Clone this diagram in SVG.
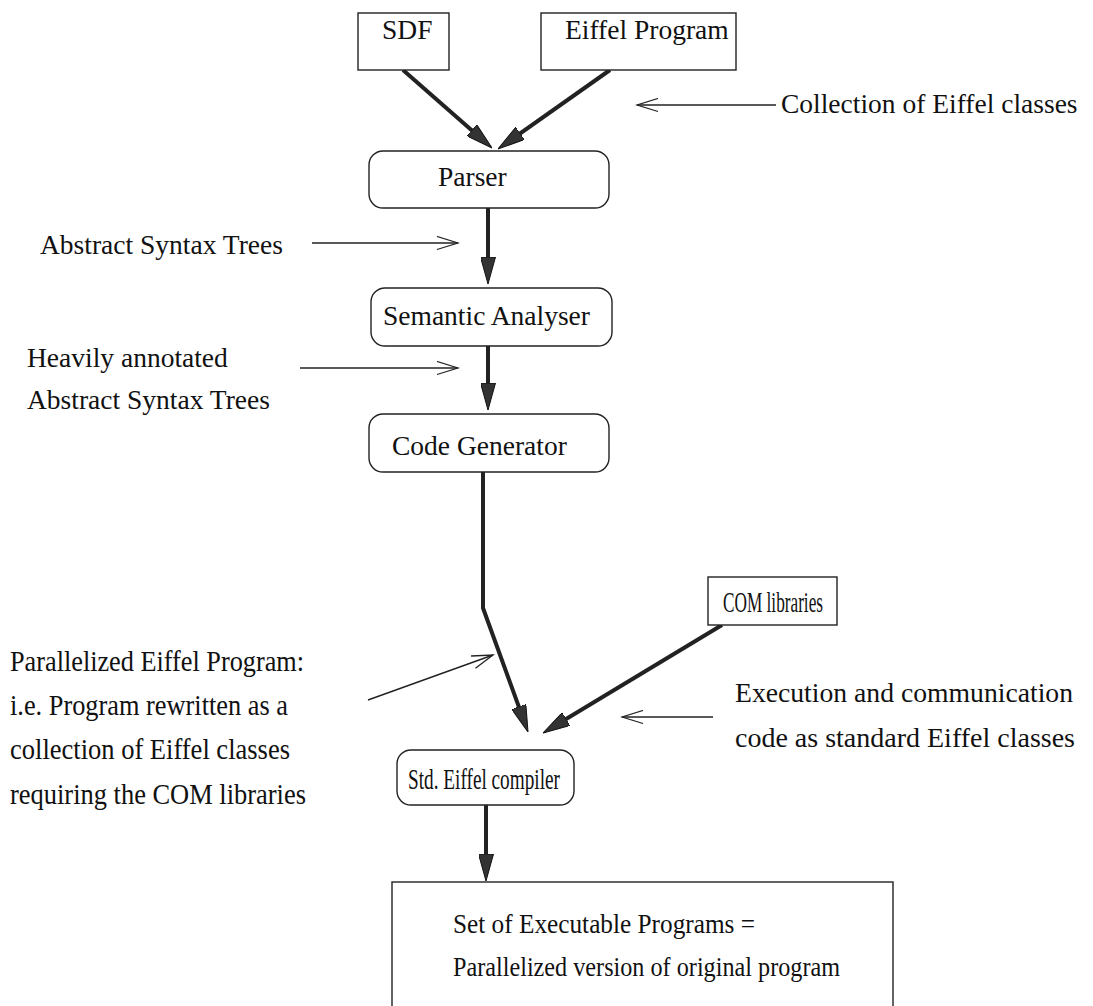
<svg xmlns="http://www.w3.org/2000/svg" width="1093" height="1006" viewBox="0 0 1093 1006">
  <defs>
    <style>
      text { font-family: "Liberation Serif", "Times New Roman", serif; font-size: 27.5px; fill: #111; }
      text.tall { font-size: 30px; }
      .box { fill: #fff; stroke: #222; stroke-width: 1.4; }
      .flow { fill: none; stroke: #222; stroke-width: 4; stroke-linejoin: round; }
      .note { fill: none; stroke: #222; stroke-width: 1.4; }
    </style>
    <!-- solid wedge head for the main data flow -->
    <marker id="solid" markerUnits="userSpaceOnUse" viewBox="0 0 27 15" markerWidth="27" markerHeight="15" refX="17" refY="7.5" orient="auto">
      <path d="M0,0 L27,7.5 L0,15 Z" fill="#333" stroke="#111" stroke-width="1"/>
    </marker>
    <!-- open V head for the annotation pointers -->
    <marker id="open" markerUnits="userSpaceOnUse" viewBox="-1 -1 24 15" markerWidth="24" markerHeight="15" refX="21" refY="6.5" orient="auto">
      <path d="M0,0 L21,6.5 L0,13" fill="none" stroke="#222" stroke-width="1.3"/>
    </marker>
  </defs>

  <rect width="1093" height="1006" fill="#fff"/>

  <!-- connectors -->
  <g id="connectors">
    <path class="flow" d="M403,70 L484.5,141.4" marker-end="url(#solid)"/>
    <path class="flow" d="M610,70 L506.2,143.2" marker-end="url(#solid)"/>
    <path class="flow" d="M488,208 L488,274" marker-end="url(#solid)"/>
    <path class="flow" d="M488,346 L488,400" marker-end="url(#solid)"/>
    <path class="flow" d="M483,472 L483,608 L524.6,722.6" marker-end="url(#solid)"/>
    <path class="flow" d="M722,625 L551.6,727.8" marker-end="url(#solid)"/>
    <path class="flow" d="M486,805 L486,871" marker-end="url(#solid)"/>

    <path class="note" d="M776,105 L637,105" marker-end="url(#open)"/>
    <path class="note" d="M312,243 L458,243" marker-end="url(#open)"/>
    <path class="note" d="M300,368 L458,368" marker-end="url(#open)"/>
    <path class="note" d="M368,700 L493,655" marker-end="url(#open)"/>
    <path class="note" d="M713,717 L622,717" marker-end="url(#open)"/>
  </g>

  <!-- nodes -->
  <g id="sdf">
    <rect class="box" x="358" y="13" width="91" height="57"/>
    <text x="382" y="39">SDF</text>
  </g>
  <g id="eiffel-program">
    <rect class="box" x="541" y="13" width="195" height="57"/>
    <text x="565" y="39">Eiffel Program</text>
  </g>
  <g id="parser">
    <rect class="box" x="369" y="151" width="240" height="57" rx="14"/>
    <text x="438" y="186">Parser</text>
  </g>
  <g id="semantic-analyser">
    <rect class="box" x="371" y="288" width="241" height="58" rx="14"/>
    <text x="383" y="325">Semantic Analyser</text>
  </g>
  <g id="code-generator">
    <rect class="box" x="369" y="414" width="240" height="58" rx="14"/>
    <text x="392" y="455">Code Generator</text>
  </g>
  <g id="com-libraries">
    <rect class="box" x="708" y="577" width="129" height="48"/>
    <text class="tall" x="723" y="612" textLength="100" lengthAdjust="spacingAndGlyphs">COM libraries</text>
  </g>
  <g id="std-compiler">
    <rect class="box" x="397" y="750" width="177" height="55" rx="14"/>
    <text class="tall" x="408" y="789" textLength="152" lengthAdjust="spacingAndGlyphs">Std. Eiffel compiler</text>
  </g>
  <g id="executables">
    <rect class="box" x="392" y="882" width="501" height="140"/>
    <text x="453" y="933" textLength="302" lengthAdjust="spacingAndGlyphs">Set of Executable Programs =</text>
    <text x="453" y="976" textLength="387" lengthAdjust="spacingAndGlyphs">Parallelized version of original program</text>
  </g>

  <!-- annotations -->
  <g id="labels">
    <text x="781" y="113">Collection of Eiffel classes</text>
    <text x="40" y="254">Abstract Syntax Trees</text>
    <text x="27" y="367">Heavily annotated</text>
    <text x="27" y="409">Abstract Syntax Trees</text>
    <text class="tall" x="10" y="671" textLength="294" lengthAdjust="spacingAndGlyphs">Parallelized Eiffel Program:</text>
    <text class="tall" x="10" y="715" textLength="278" lengthAdjust="spacingAndGlyphs">i.e. Program rewritten as a</text>
    <text class="tall" x="10" y="759" textLength="280" lengthAdjust="spacingAndGlyphs">collection of Eiffel classes</text>
    <text class="tall" x="10" y="804" textLength="296" lengthAdjust="spacingAndGlyphs">requiring the COM libraries</text>
    <text x="735" y="702" textLength="338" lengthAdjust="spacingAndGlyphs">Execution and communication</text>
    <text x="735" y="747" textLength="340" lengthAdjust="spacingAndGlyphs">code as standard Eiffel classes</text>
  </g>
</svg>
